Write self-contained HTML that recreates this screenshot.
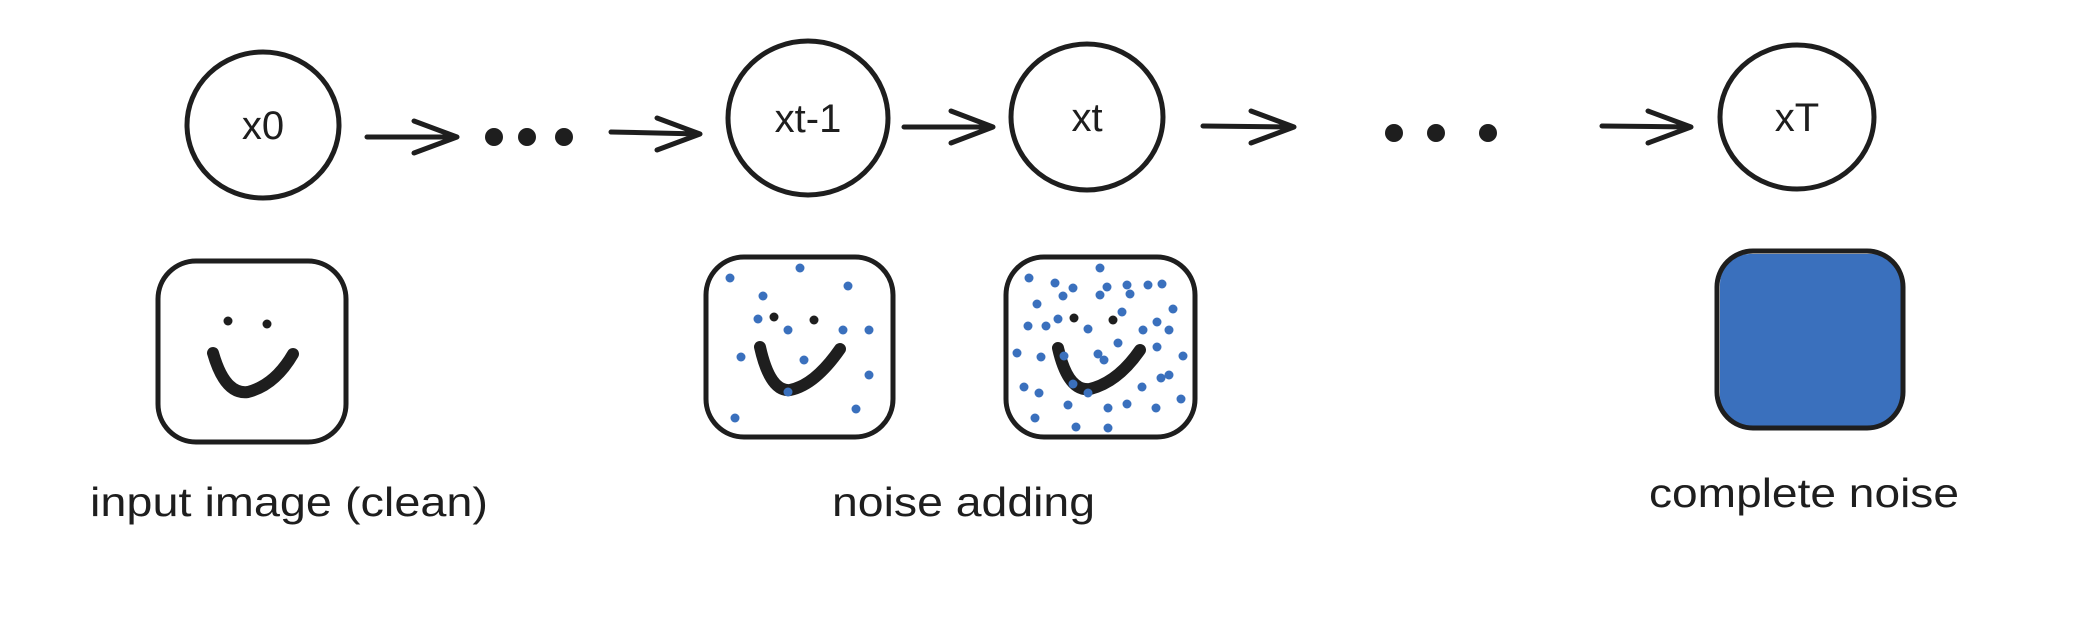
<!DOCTYPE html>
<html><head><meta charset="utf-8"><style>
html,body{margin:0;padding:0;background:#fff;}
svg{display:block}
text{font-family:"Liberation Sans",sans-serif;fill:#1e1e1e}
</style></head><body>
<svg width="2086" height="630" viewBox="0 0 2086 630" xmlns="http://www.w3.org/2000/svg">
<rect width="2086" height="630" fill="#fff"/>
<g fill="none" stroke="#1e1e1e" stroke-width="5" stroke-linecap="round" stroke-linejoin="round">
  <ellipse cx="263" cy="125" rx="76" ry="73"/>
  <ellipse cx="808" cy="118" rx="80" ry="77"/>
  <ellipse cx="1087" cy="117" rx="76" ry="73"/>
  <ellipse cx="1797" cy="117" rx="77" ry="72"/>
  <path d="M367 137 L457 137 M414 121 L457 137 L414 153"/>
  <path d="M611 132 L700 134 M657 118 L700 134 L657 150"/>
  <path d="M904 127 L993 127 M951 111 L993 127 L951 143"/>
  <path d="M1203 126 L1294 127 M1251 111 L1294 127 L1251 143"/>
  <path d="M1602 126 L1691 127 M1648 111 L1691 127 L1648 143"/>
  <rect x="158" y="261" width="188" height="181" rx="38"/>
  <rect x="706" y="257" width="187" height="180" rx="38"/>
  <rect x="1006" y="257" width="189" height="180" rx="38"/>
</g>
<rect x="1720" y="254" width="182" height="173" rx="30" fill="#3a70bd"/>
<rect x="1717" y="251" width="186" height="177" rx="36" fill="none" stroke="#1e1e1e" stroke-width="5"/>
<g fill="#1e1e1e">
  <circle cx="494" cy="137" r="9"/><circle cx="527" cy="137" r="9"/><circle cx="564" cy="137" r="9"/>
  <circle cx="1394" cy="133" r="9"/><circle cx="1436" cy="133" r="9"/><circle cx="1488" cy="133" r="9"/>
  <circle cx="228" cy="321" r="4.5"/><circle cx="267" cy="324" r="4.5"/>
  <circle cx="774" cy="317" r="4.5"/><circle cx="814" cy="320" r="4.5"/>
  <circle cx="1074" cy="318" r="4.5"/><circle cx="1113" cy="320" r="4.5"/>
</g>
<g fill="none" stroke="#1e1e1e" stroke-width="12" stroke-linecap="round">
  <path d="M213 353 Q225 395 248 392 Q275 385 293 354"/>
  <path d="M760 347 Q770 392 790 390 Q815 385 840 349"/>
  <path d="M1058 348 Q1068 392 1090 389 Q1118 382 1140 350"/>
</g>
<g fill="#3a70bd">
  <circle cx="730" cy="278" r="4.5"/><circle cx="800" cy="268" r="4.5"/><circle cx="848" cy="286" r="4.5"/><circle cx="763" cy="296" r="4.5"/><circle cx="758" cy="319" r="4.5"/><circle cx="788" cy="330" r="4.5"/><circle cx="843" cy="330" r="4.5"/><circle cx="869" cy="330" r="4.5"/><circle cx="741" cy="357" r="4.5"/><circle cx="804" cy="360" r="4.5"/><circle cx="869" cy="375" r="4.5"/><circle cx="788" cy="392" r="4.5"/><circle cx="856" cy="409" r="4.5"/><circle cx="735" cy="418" r="4.5"/>
  <circle cx="1029" cy="278" r="4.5"/><circle cx="1100" cy="268" r="4.5"/><circle cx="1055" cy="283" r="4.5"/><circle cx="1073" cy="288" r="4.5"/><circle cx="1063" cy="296" r="4.5"/><circle cx="1107" cy="287" r="4.5"/><circle cx="1100" cy="295" r="4.5"/><circle cx="1127" cy="285" r="4.5"/><circle cx="1130" cy="294" r="4.5"/><circle cx="1148" cy="285" r="4.5"/><circle cx="1162" cy="284" r="4.5"/><circle cx="1037" cy="304" r="4.5"/><circle cx="1173" cy="309" r="4.5"/><circle cx="1122" cy="312" r="4.5"/><circle cx="1058" cy="319" r="4.5"/><circle cx="1028" cy="326" r="4.5"/><circle cx="1046" cy="326" r="4.5"/><circle cx="1088" cy="329" r="4.5"/><circle cx="1143" cy="330" r="4.5"/><circle cx="1157" cy="322" r="4.5"/><circle cx="1169" cy="330" r="4.5"/><circle cx="1118" cy="343" r="4.5"/><circle cx="1157" cy="347" r="4.5"/><circle cx="1017" cy="353" r="4.5"/><circle cx="1041" cy="357" r="4.5"/><circle cx="1064" cy="356" r="4.5"/><circle cx="1098" cy="354" r="4.5"/><circle cx="1104" cy="360" r="4.5"/><circle cx="1183" cy="356" r="4.5"/><circle cx="1161" cy="378" r="4.5"/><circle cx="1169" cy="375" r="4.5"/><circle cx="1073" cy="384" r="4.5"/><circle cx="1088" cy="393" r="4.5"/><circle cx="1024" cy="387" r="4.5"/><circle cx="1039" cy="393" r="4.5"/><circle cx="1142" cy="387" r="4.5"/><circle cx="1181" cy="399" r="4.5"/><circle cx="1068" cy="405" r="4.5"/><circle cx="1108" cy="408" r="4.5"/><circle cx="1127" cy="404" r="4.5"/><circle cx="1156" cy="408" r="4.5"/><circle cx="1035" cy="418" r="4.5"/><circle cx="1076" cy="427" r="4.5"/><circle cx="1108" cy="428" r="4.5"/>
</g>
<g font-size="40">
  <text x="263" y="139" text-anchor="middle">x0</text>
  <text x="808" y="132" text-anchor="middle">xt-1</text>
  <text x="1087" y="131" text-anchor="middle">xt</text>
  <text x="1797" y="131" text-anchor="middle">xT</text>
</g>
<g font-size="41">
  <text x="90" y="516" textLength="398" lengthAdjust="spacingAndGlyphs">input image (clean)</text>
  <text x="832" y="516" textLength="263" lengthAdjust="spacingAndGlyphs">noise adding</text>
  <text x="1649" y="507" textLength="310" lengthAdjust="spacingAndGlyphs">complete noise</text>
</g>
</svg>
</body></html>
